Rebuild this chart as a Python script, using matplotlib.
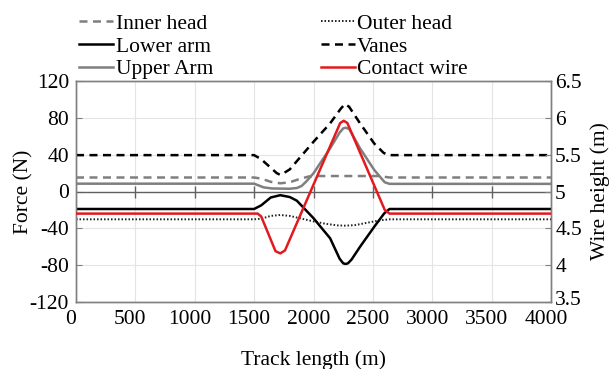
import matplotlib
matplotlib.use("Agg")
import matplotlib.pyplot as plt
import matplotlib.transforms as mtransforms
from matplotlib.lines import Line2D

plt.rcParams['font.family'] = ['Liberation Serif', 'DejaVu Serif']

# Force on each component along the track (N)
inner_x = [0, 1500, 1560, 1640, 1720, 1800, 1880, 1960, 2050, 2550, 2640, 4000]
inner_y = [15.2, 15.2, 14.0, 10.5, 8.9, 10.0, 13.5, 16.3, 16.8, 16.8, 15.2, 15.2]

outer_x = [0, 1500, 1560, 1640, 1720, 1800, 1900, 2000, 2100, 2200, 2270, 2350, 2450, 2550, 2640, 4000]
outer_y = [-30.2, -30.2, -29.5, -26.5, -25.5, -26.5, -29.5, -32.5, -35.0, -36.8, -37.1, -36.5, -34.0, -31.5, -30.2, -30.2]

lower_x = [0, 1500, 1560, 1640, 1720, 1800, 1860, 2000, 2140, 2220, 2250, 2270, 2290, 2320, 2392, 2512, 2596, 2640, 4000]
lower_y = [-19.0, -19.0, -15.0, -6.5, -4.0, -6.0, -10.0, -29.0, -50.8, -73.0, -78.0, -78.7, -78.0, -74.0, -60.0, -38.2, -23.7, -19.0, -19.0]

vanes_x = [0, 1500, 1560, 1690, 1720, 1750, 1800, 2000, 2140, 2230, 2265, 2300, 2392, 2512, 2590, 2630, 4000]
vanes_y = [39.5, 39.5, 35.0, 20.0, 18.0, 20.0, 24.0, 54.0, 74.0, 90.0, 95.0, 92.0, 74.0, 52.0, 42.0, 39.5, 39.5]

upper_x = [0, 1500, 1540, 1580, 1650, 1800, 1860, 1900, 1940, 2000, 2140, 2220, 2250, 2270, 2300, 2392, 2512, 2600, 2640, 4000]
upper_y = [8.5, 8.5, 6.5, 4.5, 3.3, 3.0, 3.8, 6.0, 11.0, 19.8, 46.9, 64.0, 68.5, 69.3, 68.0, 46.9, 23.3, 10.0, 8.3, 8.3]

# Contact wire height (m)
wire_x = [0, 1530, 1560, 1680, 1720, 1760, 2225, 2255, 2285, 2600, 2640, 4000]
wire_y = [4.70, 4.70, 4.66, 4.19, 4.16, 4.20, 5.93, 5.96, 5.93, 4.75, 4.70, 4.70]

x_ticks = [0, 500, 1000, 1500, 2000, 2500, 3000, 3500, 4000]
force_ticks = [-120, -80, -40, 0, 40, 80, 120]
height_ticks = [3.5, 4, 4.5, 5, 5.5, 6, 6.5]
height_labels = ['3.5', '4', '4.5', '5', '5.5', '6', '6.5']

FS = 15.5
GRAY = '#7f7f7f'
RED = '#e21a1f'
SPINE = '#808080'

fig = plt.figure(figsize=(6.14, 3.69), dpi=100)
ax = fig.add_axes([76 / 614, 1 - 302 / 369, 475 / 614, 221 / 369])
ax2 = ax.twinx()

ax.set_xlim(0, 4000)
ax.set_ylim(-120, 120)
ax2.set_ylim(3.5, 6.5)

ax.grid(True, color='#e4e4e4', lw=0.8)
ax.set_axisbelow(True)

# zero-force reference line with its own tick marks
ax.axhline(0, color='#606060', lw=1.0, zorder=1)
ax.plot(x_ticks[1:-1], [0] * (len(x_ticks) - 2), ls='none', marker='|',
        ms=9, mew=1.0, color='#606060', zorder=1)

lw = 1.8
ax.plot(inner_x, inner_y, color=GRAY, lw=lw, dashes=(3.2, 2.2), zorder=3)
ax.plot(outer_x, outer_y, color='#222222', lw=1.4, dashes=(0.8, 1.0), zorder=3)
ax.plot(lower_x, lower_y, color='black', lw=lw, zorder=3)
ax.plot(vanes_x, vanes_y, color='black', lw=lw, dashes=(3.2, 2.2), zorder=3)
ax.plot(upper_x, upper_y, color=GRAY, lw=lw, zorder=3)
ax2.plot(wire_x, wire_y, color=RED, lw=lw, zorder=4)

ax.set_xticks(x_ticks)
ax.set_xticklabels([str(t) for t in x_ticks])
ax.set_yticks(force_ticks)
ax.set_yticklabels([str(t) for t in force_ticks])
ax2.set_yticks(height_ticks)
ax2.set_yticklabels(height_labels)

ax.tick_params(axis='x', direction='in', length=0, labelsize=FS, pad=6)
ax.tick_params(axis='y', direction='in', length=4, color=SPINE, labelsize=FS, pad=5)
ax2.tick_params(axis='y', direction='in', length=4, color=SPINE, labelsize=FS, pad=3)

# nudge the track-length labels a little to the left
shift = mtransforms.ScaledTranslation(-5 / 100, 0, fig.dpi_scale_trans)
for lbl in ax.get_xticklabels():
    lbl.set_transform(lbl.get_transform() + shift)
# lift the lowest wire-height label clear of the x labels
lift = mtransforms.ScaledTranslation(0, 4 / 100, fig.dpi_scale_trans)
low_lbl = ax2.get_yticklabels()[0]
low_lbl.set_transform(low_lbl.get_transform() + lift)

for a in (ax, ax2):
    for s in a.spines.values():
        s.set_color(SPINE)
        s.set_linewidth(1.0)

ax.set_xlabel('Track length (m)', fontsize=FS, labelpad=15)
ax.set_ylabel('Force (N)', fontsize=FS, labelpad=-3)
ax2.set_ylabel('Wire height (m)', fontsize=FS, labelpad=6)

handles = [
    Line2D([], [], color=GRAY, lw=lw, dashes=(3.2, 2.2)),
    Line2D([], [], color='black', lw=lw),
    Line2D([], [], color=GRAY, lw=lw),
    Line2D([], [], color='#222222', lw=1.4, dashes=(0.8, 1.0)),
    Line2D([], [], color='black', lw=lw, dashes=(3.2, 2.2)),
    Line2D([], [], color=RED, lw=lw),
]
labels = ['Inner head', 'Lower arm', 'Upper Arm', 'Outer head', 'Vanes', 'Contact wire']
fig.legend(handles, labels, ncol=2, loc='upper left',
           bbox_to_anchor=(66 / 614, 1 - 1 / 369), frameon=False,
           fontsize=FS, handlelength=1.6, handletextpad=0.1,
           columnspacing=5.0, labelspacing=0.12, borderpad=0.1)

fig.savefig('out.png', dpi=100)
